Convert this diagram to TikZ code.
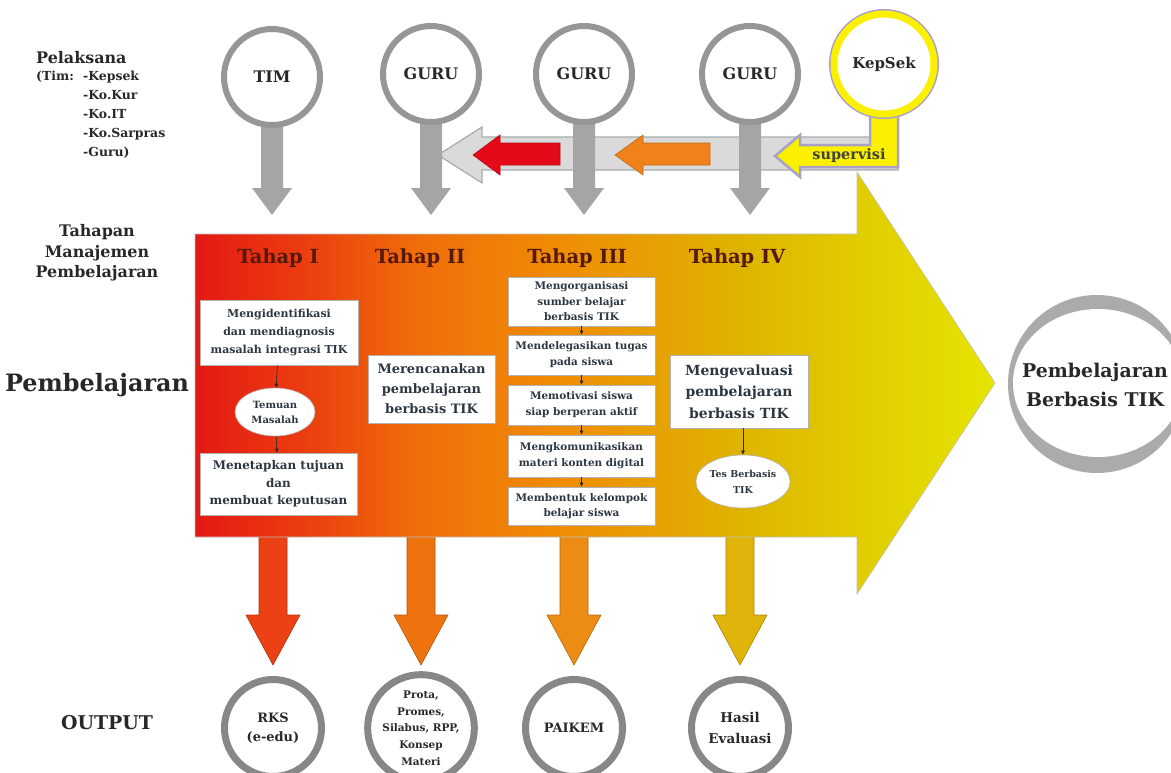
\documentclass[tikz,border=0pt]{standalone}
\usepackage{fontspec}
\setmainfont{DejaVu Serif}
\usetikzlibrary{arrows.meta,shapes.geometric}
\definecolor{tahapA}{RGB}{228,25,20}
\definecolor{tahapB}{RGB}{235,60,15}
\definecolor{tahapC}{RGB}{240,110,10}
\definecolor{tahapD}{RGB}{240,140,5}
\definecolor{tahapE}{RGB}{222,180,0}
\definecolor{tahapF}{RGB}{225,205,0}
\definecolor{tahapG}{RGB}{230,228,0}
\definecolor{boxtext}{RGB}{45,55,65}
\definecolor{labeltext}{RGB}{40,40,40}
\definecolor{tahaptext}{RGB}{85,25,10}
\definecolor{ringgray}{RGB}{150,150,150}
\definecolor{arrowgray}{RGB}{165,165,165}
\definecolor{bandgray}{RGB}{218,218,218}
\definecolor{bandline}{RGB}{165,172,172}
\definecolor{supred}{RGB}{228,10,25}
\definecolor{suporange}{RGB}{240,130,25}
\definecolor{kepyellow}{RGB}{250,240,0}
\definecolor{kepline}{RGB}{170,160,200}
\definecolor{outA}{RGB}{235,65,20}
\definecolor{outB}{RGB}{238,115,15}
\definecolor{outC}{RGB}{236,140,20}
\definecolor{outD}{RGB}{224,180,10}
\pgfdeclarehorizontalshading{tahapshade}{100bp}{color(0bp)=(tahapA); color(25bp)=(tahapA); color(31.6bp)=(tahapB); color(39.1bp)=(tahapC); color(47.8bp)=(tahapD); color(59.1bp)=(tahapE); color(66.6bp)=(tahapF); color(75bp)=(tahapG); color(100bp)=(tahapG)}
\newcommand{\fsz}[2]{\fontsize{#1}{#2}\selectfont}
\begin{document}
\begin{tikzpicture}[x=1bp,y=-1bp,
  box/.style={draw=black!30,fill=white,line width=0.6bp,align=center,inner sep=1bp,text=boxtext,font=\bfseries},
  oval/.style={ellipse,draw=black!30,fill=white,line width=0.6bp,align=center,inner sep=0bp,text=boxtext,font=\bfseries},
  ring/.style={circle,draw=ringgray,line width=6bp,fill=white,minimum size=96bp,inner sep=0bp,align=center,text=labeltext},
  outring/.style={circle,draw=ringgray!90!black,line width=7bp,fill=white,minimum size=97bp,inner sep=0bp,align=center,text=labeltext},
  lbl/.style={align=center,text=labeltext,inner sep=0bp},
  tahap/.style={text=tahaptext,inner sep=0bp,font=\fsz{19.5}{22}\bfseries},
  conn/.style={-{Latex[length=4bp,width=4bp]},black!85,line width=0.6bp}]
	%%
  \useasboundingbox (0,0) rectangle (1171,773);
  \clip (0,0) rectangle (1171,773);
  % output arrows
  \foreach \x/\c in {273/outA,421/outB,574/outC,740/outD}
    \filldraw[fill=\c,draw=\c!75!black,line width=0.6bp] (\x-14,530) -- (\x+14,530) -- (\x+14,615) -- (\x+27,615) -- (\x,665) -- (\x-27,615) -- (\x-14,615) -- cycle;
  % main arrow
  \shade[shading=tahapshade] (195,234) -- (857,234) -- (857,172) -- (995,383) -- (857,594) -- (857,537) -- (195,537) -- cycle;
  \draw[white!75!black,line width=0.6bp] (195,234) -- (857,234) -- (857,172) -- (995,383) -- (857,594) -- (857,537) -- (195,537) -- cycle;
  % supervisi band
  \filldraw[fill=bandgray,draw=bandline,line width=1.2bp] (898,137) -- (482,137) -- (482,127) -- (438,155) -- (482,183) -- (482,170) -- (898,170) -- cycle;
  \filldraw[fill=supred,draw=supred!80!black,line width=0.6bp] (560,143) -- (500,143) -- (500,135) -- (473,155) -- (500,175) -- (500,165) -- (560,165) -- cycle;
  \filldraw[fill=suporange,draw=suporange!80!black,line width=0.6bp] (710,143) -- (643,143) -- (643,135) -- (615,155) -- (643,175) -- (643,165) -- (710,165) -- cycle;
  \foreach \x in {272,431,584,750}
    \fill[arrowgray] (\x-11,110) -- (\x+11,110) -- (\x+11,188) -- (\x+20,188) -- (\x,215) -- (\x-20,188) -- (\x-11,188) -- cycle;
  \filldraw[fill=kepyellow,draw=kepline,line width=2.5bp] (870,100) -- (870,145) -- (800,145) -- (800,135) -- (775,156) -- (800,177) -- (800,167) -- (898,167) -- (898,100) -- cycle;
  \node (supervisi) at (849,156) [inner sep=0bp,text=black!75,font=\fsz{14.5}{16}\bfseries] {supervisi};
  % pelaksana
  \node (tim) at (272,77) [ring,font=\fsz{16}{18}\bfseries] {TIM};
  \node (guru1) at (431,74) [ring,font=\fsz{16}{18}\bfseries] {GURU};
  \node (guru2) at (584,74) [ring,font=\fsz{16}{18}\bfseries] {GURU};
  \node (guru3) at (750,74) [ring,font=\fsz{16}{18}\bfseries] {GURU};
  \node (kepsekline) at (884,64) [circle,draw=kepline,line width=10bp,minimum size=100bp] {};
  \node (kepsek) at (884,64) [circle,draw=kepyellow,line width=7bp,fill=white,minimum size=100bp,inner sep=0bp,text=labeltext,font=\fsz{15}{18}\bfseries] {KepSek};
  % left labels
  \node (pelaksana) at (36,58) [lbl,anchor=west,font=\fsz{16}{19}\bfseries] {Pelaksana};
  \node (timlist) at (36,71) [lbl,anchor=north west,align=left,font=\fsz{12.5}{19}\bfseries] {\makebox[47bp][l]{(Tim:}-Kepsek\\\hspace*{47bp}-Ko.Kur\\\hspace*{47bp}-Ko.IT\\\hspace*{47bp}-Ko.Sarpras\\\hspace*{47bp}-Guru)};
  \node (tahapan) at (97,253) [lbl,font=\fsz{16}{20.5}\bfseries] {Tahapan\\Manajemen\\Pembelajaran};
  \node (pembelajaran) at (97,385) [lbl,font=\fsz{24}{28}\bfseries] {Pembelajaran};
  \node (output) at (107,723) [lbl,font=\fsz{19}{22}\bfseries] {OUTPUT};
  % tahap
  \node (tahap1) at (278,258) [tahap] {Tahap I};
  \node (tahap2) at (420,258) [tahap] {Tahap II};
  \node (tahap3) at (577,258) [tahap] {Tahap III};
  \node (tahap4) at (737,258) [tahap] {Tahap IV};
  \node (idf) at (279,332.5) [box,minimum width=158bp,minimum height=65bp,font=\fsz{11}{18}\bfseries] {Mengidentifikasi\\dan mendiagnosis\\masalah integrasi TIK};
  \node (temuan) at (275,412) [oval,minimum width=80bp,minimum height=48bp,font=\fsz{10}{15}\bfseries] {Temuan\\Masalah};
  \node (tetapkan) at (278.5,484) [box,minimum width=157bp,minimum height=62bp,font=\fsz{12}{17.5}\bfseries] {Menetapkan tujuan\\dan\\membuat keputusan};
  \node (rencana) at (431.5,389) [box,minimum width=127bp,minimum height=68bp,font=\fsz{13}{20}\bfseries] {Merencanakan\\pembelajaran\\berbasis TIK};
  \node (organisasi) at (581.5,301.5) [box,minimum width=147bp,minimum height=49bp,font=\fsz{10.5}{15.5}\bfseries] {Mengorganisasi\\sumber belajar\\berbasis TIK};
  \node (delegasi) at (581.5,355) [box,minimum width=147bp,minimum height=40bp,font=\fsz{10.5}{16}\bfseries] {Mendelegasikan tugas\\pada siswa};
  \node (motivasi) at (581.5,405) [box,minimum width=147bp,minimum height=40bp,font=\fsz{10.5}{16}\bfseries] {Memotivasi siswa\\siap berperan aktif};
  \node (komunikasi) at (581.5,456) [box,minimum width=147bp,minimum height=42bp,font=\fsz{10.5}{16}\bfseries] {Mengkomunikasikan\\materi konten digital};
  \node (kelompok) at (581.5,506) [box,minimum width=147bp,minimum height=38bp,font=\fsz{10.5}{15}\bfseries] {Membentuk kelompok\\belajar siswa};
  \node (evaluasi) at (739,391.5) [box,minimum width=138bp,minimum height=73bp,font=\fsz{14}{21.5}\bfseries] {Mengevaluasi\\pembelajaran\\berbasis TIK};
  \node (tes) at (743,481.5) [oval,minimum width=90bp,minimum height=53bp,font=\fsz{9.5}{16}\bfseries] {Tes Berbasis\\TIK};
  \draw[conn] (idf) -- (temuan);
  \draw[conn] (temuan) -- (tetapkan);
  \draw[conn] (organisasi) -- (delegasi);
  \draw[conn] (delegasi) -- (motivasi);
  \draw[conn] (motivasi) -- (komunikasi);
  \draw[conn] (komunikasi) -- (kelompok);
  \draw[conn] (evaluasi.south -| tes.north) -- (tes);
  % output
  \node (rks) at (273,728) [outring,font=\fsz{13}{19}\bfseries] {RKS\\(e-edu)};
  \node (prota) at (421,728) [outring,font=\fsz{10.5}{16.7}\bfseries] {Prota,\\Promes,\\Silabus, RPP,\\Konsep\\Materi};
  \node (paikem) at (574,728) [outring,font=\fsz{13}{19}\bfseries] {PAIKEM};
  \node (hasil) at (740,728) [outring,font=\fsz{13.5}{22}\bfseries] {Hasil\\Evaluasi};
  % hasil akhir
  \node (akhirring) at (1097,384) [circle,fill=black!33,minimum size=178bp] {};
  \node (akhirisi) at (1098,383) [ellipse,fill=white,minimum width=170bp,minimum height=148bp,inner sep=0bp] {};
  \node (akhir) at (1095,385) [lbl,font=\fsz{19}{29}\bfseries] {Pembelajaran\\Berbasis TIK};
	%
\end{tikzpicture}
\end{document}
